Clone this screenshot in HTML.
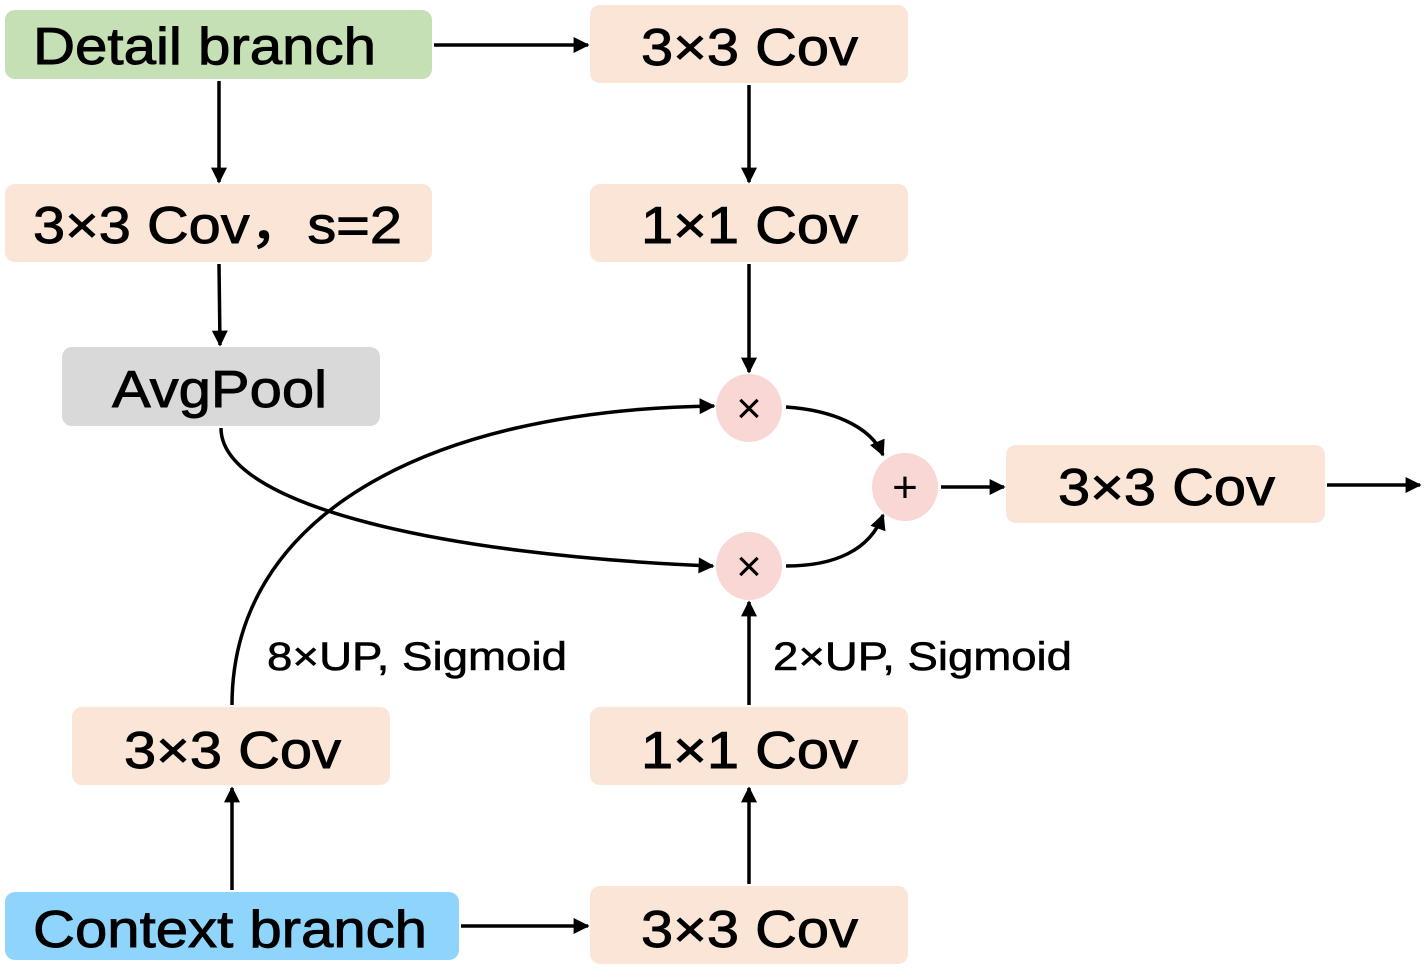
<!DOCTYPE html>
<html><head><meta charset="utf-8"><style>
html,body{margin:0;padding:0;background:#fff;}
svg{display:block;}
text{font-family:"Liberation Sans","Noto Sans CJK SC",sans-serif;fill:#000;}
.t{stroke:#000;stroke-width:0.9px;}
</style></head><body>
<svg width="1425" height="970" viewBox="0 0 1425 970" xmlns="http://www.w3.org/2000/svg">
<defs>
<marker id="a" viewBox="0 0 10 10" refX="9" refY="5" markerWidth="20" markerHeight="16" markerUnits="userSpaceOnUse" orient="auto"><path d="M0,0 L10,5 L0,10 z" fill="#000"/></marker>
</defs>
<g fill="#fbe5d6">
<rect x="5" y="10" width="427" height="69" rx="10" fill="#c5e0b4"/>
<rect x="590" y="5" width="318" height="78" rx="10"/>
<rect x="5" y="184" width="427" height="78" rx="10"/>
<rect x="590" y="184" width="318" height="78" rx="10"/>
<rect x="62" y="347" width="318" height="79" rx="10" fill="#d9d9d9"/>
<rect x="1006" y="445" width="319" height="78" rx="10"/>
<rect x="72" y="707" width="318" height="78" rx="10"/>
<rect x="590" y="707" width="318" height="78" rx="10"/>
<rect x="5" y="892" width="454" height="68" rx="10" fill="#8fd5fb"/>
<rect x="590" y="886" width="318" height="78" rx="10"/>
</g>
<g fill="#f8d7d5">
<ellipse cx="749" cy="408" rx="33" ry="34"/>
<ellipse cx="749" cy="566" rx="33" ry="34"/>
<ellipse cx="905" cy="487" rx="33" ry="34"/>
</g>
<g font-size="52" class="t">
<text x="33" y="64" textLength="343" lengthAdjust="spacingAndGlyphs">Detail branch</text>
<text x="641" y="65" textLength="217" lengthAdjust="spacingAndGlyphs">3×3 Cov</text>
<text x="33" y="243" textLength="369" lengthAdjust="spacingAndGlyphs">3×3 Cov，s=2</text>
<text x="641" y="243" textLength="217" lengthAdjust="spacingAndGlyphs">1×1 Cov</text>
<text x="112" y="407" textLength="215" lengthAdjust="spacingAndGlyphs">AvgPool</text>
<text x="1058" y="505" textLength="217" lengthAdjust="spacingAndGlyphs">3×3 Cov</text>
<text x="124" y="768" textLength="217" lengthAdjust="spacingAndGlyphs">3×3 Cov</text>
<text x="641" y="768" textLength="217" lengthAdjust="spacingAndGlyphs">1×1 Cov</text>
<text x="33" y="947" textLength="394" lengthAdjust="spacingAndGlyphs">Context branch</text>
<text x="641" y="947" textLength="217" lengthAdjust="spacingAndGlyphs">3×3 Cov</text>
</g>
<g font-size="40" style="stroke:#000;stroke-width:0.6px">
<text x="267" y="670" textLength="300" lengthAdjust="spacingAndGlyphs">8×UP, Sigmoid</text>
<text x="773" y="670" textLength="299" lengthAdjust="spacingAndGlyphs">2×UP, Sigmoid</text>
</g>
<g font-size="44" text-anchor="middle">
<text x="749" y="423">×</text>
<text x="749" y="581">×</text>
<text x="905" y="502">+</text>
</g>
<g stroke="#000" stroke-width="3.5" fill="none" marker-end="url(#a)">
<line x1="434" y1="45" x2="588" y2="45"/>
<line x1="219" y1="81" x2="219" y2="182"/>
<line x1="219" y1="264" x2="220" y2="345"/>
<line x1="749" y1="85" x2="749" y2="182"/>
<line x1="749" y1="264" x2="749" y2="372"/>
<line x1="941" y1="487" x2="1004" y2="487"/>
<line x1="1327" y1="485" x2="1420" y2="485"/>
<line x1="232" y1="890" x2="232" y2="788"/>
<line x1="749" y1="884" x2="749" y2="788"/>
<line x1="749" y1="705" x2="749" y2="602"/>
<line x1="461" y1="926" x2="588" y2="926"/>
<path d="M221,428 C221,505 440,555 713,566"/>
<path d="M232,705 C232,520 420,410 714,406"/>
<path d="M786,407 C830,410 870,425 883,455"/>
<path d="M786,566 C835,566 870,550 883,515"/>
</g>
</svg>
</body></html>
